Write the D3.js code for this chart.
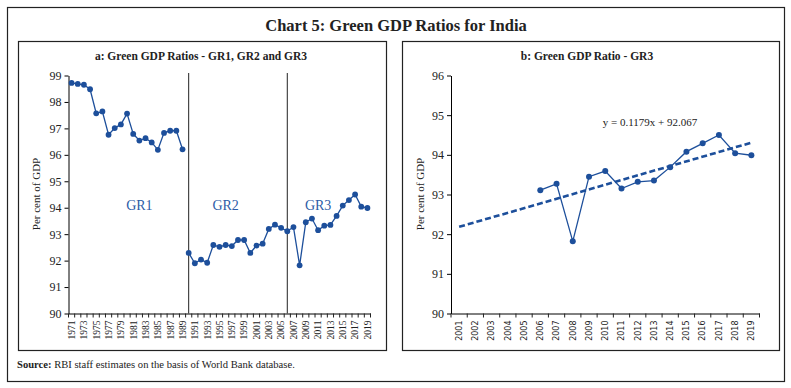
<!DOCTYPE html>
<html>
<head>
<meta charset="utf-8">
<script src="https://cdn.jsdelivr.net/npm/d3@7"></script>
<style>
  body { margin: 0; background: #fff; }
  svg { display: block; }
  text { font-family: "Liberation Serif", serif; fill: #222; }
</style>
</head>
<body>
<svg width="791" height="388"></svg>
<script>

// data
var gr1Years = d3.range(1971, 1990);
var gr1Values = [98.72, 98.68, 98.65, 98.48, 97.57, 97.64, 96.76, 97.01, 97.15, 97.56,
                 96.79, 96.54, 96.63, 96.47, 96.19, 96.83, 96.91, 96.91, 96.21];
var gr2Years = d3.range(1990, 2006);
var gr2Values = [92.29, 91.90, 92.04, 91.92, 92.59, 92.52, 92.59, 92.55, 92.78, 92.78,
                 92.29, 92.57, 92.64, 93.20, 93.36, 93.24];
var gr3Years = d3.range(2006, 2020);
var gr3Values = [93.11, 93.27, 91.82, 93.45, 93.59, 93.15, 93.32, 93.35, 93.69, 94.08,
                 94.29, 94.50, 94.04, 93.99];
var yearsA = d3.range(1971, 2020);
var yearsB = d3.range(2001, 2020);
var yTicksA = d3.range(90, 100);
var yTicksB = d3.range(90, 97);
var trendSlope = 0.1179, trendIntercept = 92.067;   // x = 1 at 2001

var blue = '#1d4f9b';
var svg = d3.select('svg');

// frames
svg.append('rect').attr('x', 7.5).attr('y', 7.5).attr('width', 777).attr('height', 374)
	.attr('fill', 'none').attr('stroke', '#222').attr('stroke-width', 1.2);
svg.append('rect').attr('x', 18.5).attr('y', 41.5).attr('width', 368).attr('height', 309)
	.attr('fill', 'none').attr('stroke', '#222').attr('stroke-width', 1.2);
svg.append('rect').attr('x', 402.5).attr('y', 41.5).attr('width', 377).attr('height', 309)
	.attr('fill', 'none').attr('stroke', '#222').attr('stroke-width', 1.2);

svg.append('text').attr('x', 396).attr('y', 31).attr('text-anchor', 'middle')
	.style('font-size', '16.5px').style('font-weight', 'bold')
	.text('Chart 5: Green GDP Ratios for India');

var src = svg.append('text').attr('x', 17).attr('y', 368).style('font-size', '10.6px');
src.append('tspan').style('font-weight', 'bold').text('Source:');
src.append('tspan').text(' RBI staff estimates on the basis of World Bank database.');

// ---------- panel a ----------
var xa = d3.scaleBand().domain(yearsA).range([68.5, 370.5]).padding(0);
var ya = d3.scaleLinear().domain([90, 99]).range([313.5, 75.5]);

var ga = svg.append('g');
ga.append('text').attr('x', 201).attr('y', 60).attr('text-anchor', 'middle')
	.style('font-size', '11.5px').style('font-weight', 'bold')
	.text('a: Green GDP Ratios - GR1, GR2 and GR3');

ga.append('g').attr('transform', 'translate(68.5,0)')
	.call(d3.axisLeft(ya).tickValues(yTicksA).tickSize(4).tickSizeOuter(0).tickFormat(d3.format('d')))
	.call(function(g){ g.selectAll('text').style('font-size', '12px').attr('font-family', null).attr('fill', '#222'); });

var xAxisA = ga.append('g').attr('transform', 'translate(0,313.5)')
	.call(d3.axisBottom(xa).tickValues(yearsA.filter(function(d){ return d % 2 == 1 })).tickSize(0).tickSizeOuter(0));
xAxisA.selectAll('text')
	.attr('font-family', null).attr('fill', '#222').style('font-size', '9.5px')
	.attr('transform', 'rotate(-90)').attr('text-anchor', 'end')
	.attr('x', -7).attr('y', 0).attr('dy', '0.35em');
xAxisA.selectAll('.tick-mark').data(yearsA.map(function(d){ return xa(d) }).concat([xa.range()[1]]))
	.enter().append('line')
	.attr('x1', function(d){ return d }).attr('x2', function(d){ return d })
	.attr('y1', 0).attr('y2', 4).attr('stroke', '#222');

ga.append('text').attr('transform', 'translate(40,194) rotate(-90)').attr('text-anchor', 'middle')
	.style('font-size', '11px').text('Per cent of GDP');

[1990, 2006].forEach(function(yr){
	var x = xa(yr) + xa.bandwidth() / 2;
	ga.append('line').attr('x1', x).attr('x2', x).attr('y1', 73).attr('y2', 313.5)
		.attr('stroke', '#222').attr('stroke-width', 1);
});

var labelsA = [['GR1', 1982], ['GR2', 1996], ['GR3', 2011]];
ga.selectAll('.grl').data(labelsA).enter().append('text')
	.attr('x', function(d){ return xa(d[1]) + xa.bandwidth() / 2 })
	.attr('y', 210).attr('text-anchor', 'middle')
	.style('font-size', '14px').style('fill', '#2d5ca6')
	.text(function(d){ return d[0] });

var lineA = d3.line().x(function(d){ return xa(d[0]) + xa.bandwidth() / 2 }).y(function(d){ return ya(d[1]) });
var seg1 = d3.zip(gr1Years, gr1Values);
var seg2 = d3.zip(gr2Years.concat(gr3Years), gr2Values.concat(gr3Values));
[seg1, seg2].forEach(function(seg){
	ga.append('path').datum(seg).attr('d', lineA).attr('fill', 'none')
		.attr('stroke', blue).attr('stroke-width', 1.3);
});
ga.selectAll('circle').data(seg1.concat(seg2)).enter().append('circle')
	.attr('cx', function(d){ return xa(d[0]) + xa.bandwidth() / 2 })
	.attr('cy', function(d){ return ya(d[1]) })
	.attr('r', 2.9).attr('fill', blue);

// ---------- panel b ----------
var xb = d3.scaleBand().domain(yearsB).range([451, 759.5]).padding(0);
var yb = d3.scaleLinear().domain([90, 96]).range([313.5, 75.5]);

var gb = svg.append('g');
gb.append('text').attr('x', 587).attr('y', 60).attr('text-anchor', 'middle')
	.style('font-size', '11.5px').style('font-weight', 'bold')
	.text('b: Green GDP Ratio - GR3');

gb.append('g').attr('transform', 'translate(451,0)')
	.call(d3.axisLeft(yb).tickValues(yTicksB).tickSize(4).tickSizeOuter(0).tickFormat(d3.format('d')))
	.call(function(g){ g.selectAll('text').style('font-size', '12px').attr('font-family', null).attr('fill', '#222'); });

var xAxisB = gb.append('g').attr('transform', 'translate(0,313.5)')
	.call(d3.axisBottom(xb).tickSize(0).tickSizeOuter(0));
xAxisB.selectAll('text')
	.attr('font-family', null).attr('fill', '#222')
	.style('font-family', '"DejaVu Sans", sans-serif').style('font-size', '8px')
	.attr('transform', 'rotate(-90)').attr('text-anchor', 'end')
	.attr('x', -7).attr('y', 0).attr('dy', '0.35em');
xAxisB.selectAll('.tick-mark').data(yearsB.map(function(d){ return xb(d) }).concat([xb.range()[1]]))
	.enter().append('line')
	.attr('x1', function(d){ return d }).attr('x2', function(d){ return d })
	.attr('y1', 0).attr('y2', 4).attr('stroke', '#222');

gb.append('text').attr('transform', 'translate(424,194) rotate(-90)').attr('text-anchor', 'middle')
	.style('font-size', '11px').text('Per cent of GDP');

// trend line
var trend = [yearsB[0], yearsB[yearsB.length - 1]].map(function(yr){
	return [yr, trendSlope * (yr - 2000) + trendIntercept];
});
var lineB = d3.line().x(function(d){ return xb(d[0]) + xb.bandwidth() / 2 }).y(function(d){ return yb(d[1]) });
gb.append('path').datum(trend).attr('d', lineB).attr('fill', 'none')
	.attr('stroke', blue).attr('stroke-width', 2.6).attr('stroke-dasharray', '6,3');

var segB = d3.zip(gr3Years, gr3Values);
gb.append('path').datum(segB).attr('d', lineB).attr('fill', 'none')
	.attr('stroke', blue).attr('stroke-width', 1.3);
gb.selectAll('circle').data(segB).enter().append('circle')
	.attr('cx', function(d){ return xb(d[0]) + xb.bandwidth() / 2 })
	.attr('cy', function(d){ return yb(d[1]) })
	.attr('r', 3).attr('fill', blue);

gb.append('text').attr('x', 650).attr('y', 126).attr('text-anchor', 'middle')
	.style('font-size', '11px').text('y = 0.1179x + 92.067');

</script>
</body>
</html>
